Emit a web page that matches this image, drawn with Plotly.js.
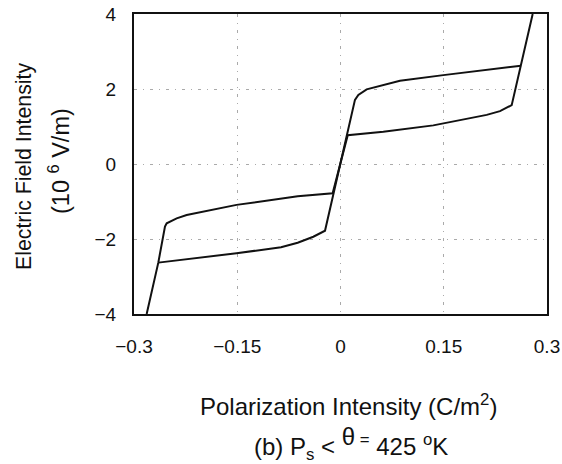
<!DOCTYPE html>
<html>
<head>
<meta charset="utf-8">
<script src="https://cdn.plot.ly/plotly-3.0.1.min.js"></script>
<style>html,body{margin:0;padding:0;background:#fff;}#chart{width:562px;height:464px;}</style>
</head>
<body>
<div id="chart"></div>
<script>
// Branch A: outer-left steep rise, upper branch of lower loop, centre, lower branch of upper loop, outer-right rise
var branchA_P = [-0.2816, -0.2647, -0.255, -0.2525, -0.238, -0.2235, -0.151, -0.0622, -0.0114, 0.0105, 0.0622, 0.1348, 0.2124, 0.2317, 0.2487, 0.2622, 0.2792];
var branchA_E = [-4, -2.63, -1.67, -1.58, -1.45, -1.36, -1.09, -0.86, -0.78, 0.77, 0.86, 1.03, 1.31, 1.41, 1.57, 2.62, 4];
// Branch B: lower branch of lower loop, centre steep line, upper branch of upper loop
var branchB_P = [-0.2647, -0.2124, -0.151, -0.0864, -0.0622, -0.0395, -0.0225, 0.021, 0.0259, 0.038, 0.0622, 0.0864, 0.1494, 0.2124, 0.2622];
var branchB_E = [-2.63, -2.52, -2.38, -2.22, -2.1, -1.94, -1.78, 1.71, 1.84, 1.99, 2.11, 2.22, 2.37, 2.52, 2.62];

var xTickVals = [-0.3, -0.15, 0, 0.15, 0.3];
var xTickText = ["\u22120.3", "\u22120.15", "0", "0.15", "0.3"];
var yTickVals = [-4, -2, 0, 2, 4];
var yTickText = ["\u22124", "\u22122", "0", "2", "4"];

var lineStyle = {color: '#111', width: 2};
var traces = [
  {x: branchA_P, y: branchA_E, mode: 'lines', line: lineStyle, showlegend: false, hoverinfo: 'skip'},
  {x: branchB_P, y: branchB_E, mode: 'lines', line: lineStyle, showlegend: false, hoverinfo: 'skip'}
];

var fam = 'Liberation Sans, Arial, sans-serif';
var gridDash = '3px,6px,1px,6px';
var layout = {
  width: 562, height: 464,
  margin: {l: 134, r: 15, t: 14, b: 150},
  paper_bgcolor: '#fff', plot_bgcolor: '#fff',
  font: {family: fam, color: '#111'},
  xaxis: {
    range: [-0.3, 0.3], tickvals: xTickVals, ticktext: xTickText,
    showline: true, linecolor: '#111', linewidth: 2, mirror: true,
    showgrid: true, gridcolor: '#aaa', griddash: gridDash, gridwidth: 1,
    zeroline: false, ticks: '', ticklabelstandoff: 14,
    tickfont: {family: fam, size: 19, color: '#111'}
  },
  yaxis: {
    range: [-4, 4], tickvals: yTickVals, ticktext: yTickText,
    showline: true, linecolor: '#111', linewidth: 2, mirror: true,
    showgrid: true, gridcolor: '#aaa', griddash: gridDash, gridwidth: 1,
    zeroline: false, ticks: '', ticklabelstandoff: 12,
    tickfont: {family: fam, size: 19, color: '#111'}
  },
  annotations: [
    {text: 'Electric Field Intensity', xref: 'paper', yref: 'paper', x: -0.2663, y: 0.49,
     xanchor: 'center', yanchor: 'middle', textangle: -90, showarrow: false,
     font: {family: fam, size: 21.3, color: '#111'}},
    {text: '(10 <sup>6</sup> V/m)', xref: 'paper', yref: 'paper', x: -0.1816, y: 0.51,
     xanchor: 'center', yanchor: 'middle', textangle: -90, showarrow: false,
     font: {family: fam, size: 23.5, color: '#111'}},
    {text: 'Polarization Intensity (C/m<sup>2</sup>)', xref: 'paper', yref: 'paper', x: 0.52, y: -0.303,
     xanchor: 'center', yanchor: 'middle', showarrow: false,
     font: {family: fam, size: 24, color: '#111'}},
    {text: '(b) P<sub>s</sub> < <sup><span style="font-size:24px">\u03b8</span> =</sup> 425 <sup>o</sup>K', xref: 'paper', yref: 'paper', x: 0.525, y: -0.43,
     xanchor: 'center', yanchor: 'middle', showarrow: false,
     font: {family: fam, size: 24, color: '#111'}}
  ]
};
Plotly.newPlot('chart', traces, layout, {staticPlot: true, displayModeBar: false});
</script>
</body>
</html>
